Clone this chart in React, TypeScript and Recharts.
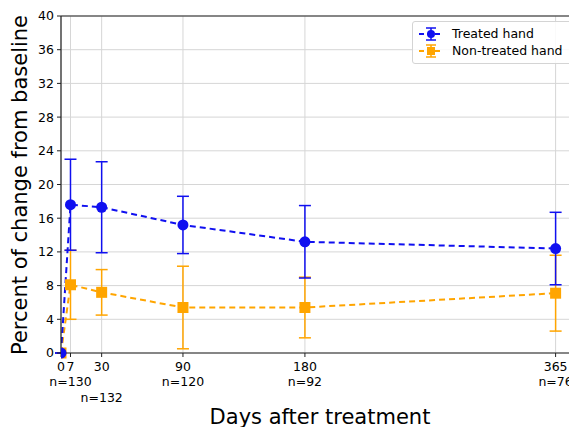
import {
  CartesianGrid,
  ComposedChart,
  ErrorBar,
  Label,
  Line,
  ReferenceLine,
  XAxis,
  YAxis,
} from 'recharts'

// 치료 후 기준선 대비 변화율 — 치료한 손 / 치료하지 않은 손, 비대칭 오차 막대

const days = [0, 7, 30, 90, 180, 365]
const sampleSizes = ['', 'n=130', 'n=132', 'n=120', 'n=92', 'n=76']
const yTicks = [0, 4, 8, 12, 16, 20, 24, 28, 32, 36, 40]

const treated = [0, 17.6, 17.3, 15.2, 13.2, 12.4]
const treatedLow = [0, 12.2, 11.9, 11.8, 8.9, 8.1]
const treatedHigh = [0, 23.0, 22.7, 18.6, 17.5, 16.7]

const untreated = [0, 8.1, 7.2, 5.4, 5.4, 7.1]
const untreatedLow = [0, 4.0, 4.5, 0.5, 1.8, 2.6]
const untreatedHigh = [0, 12.2, 9.9, 10.3, 9.0, 11.6]

const BLUE = '#1010f0'
const ORANGE = '#ffa500'
const FONT = '"DejaVu Sans", sans-serif'

const data = days.map((d, i) => ({
  day: d,
  treated: treated[i],
  treatedErr: [treated[i] - treatedLow[i], treatedHigh[i] - treated[i]],
  untreated: untreated[i],
  untreatedErr: [untreated[i] - untreatedLow[i], untreatedHigh[i] - untreated[i]],
}))

function DayTick({ x, y, payload }: any) {
  const i = days.indexOf(payload.value)
  // 30일 n 라벨은 7일 라벨과 겹쳐서 한 줄 아래로
  const nDy = i === 2 ? 45 : 29
  return (
    <g transform={`translate(${x},${y})`} fontFamily={FONT} fontSize={12.5} fill="#000">
      <text textAnchor="middle" dy={13.5}>{payload.value}</text>
      {sampleSizes[i] && (
        <text textAnchor="middle" dy={nDy}>{sampleSizes[i]}</text>
      )}
    </g>
  )
}

function CircleDot({ cx, cy, key }: any) {
  return <circle key={key} cx={cx} cy={cy} r={5.5} fill={BLUE} />
}

function SquareDot({ cx, cy, key }: any) {
  return <rect key={key} x={cx - 5.5} y={cy - 5.5} width={11} height={11} fill={ORANGE} />
}

function LegendIcon({ color, square }: { color: string; square?: boolean }) {
  return (
    <svg width={24} height={14} style={{ marginRight: 9 }}>
      <line x1={0} y1={7} x2={24} y2={7} stroke={color} strokeWidth={2} strokeDasharray="5 3" />
      <line x1={12} y1={1} x2={12} y2={13} stroke={color} strokeWidth={1.5} />
      <line x1={7} y1={1} x2={17} y2={1} stroke={color} strokeWidth={1.5} />
      <line x1={7} y1={13} x2={17} y2={13} stroke={color} strokeWidth={1.5} />
      {square ? (
        <rect x={8} y={3} width={8} height={8} fill={color} />
      ) : (
        <circle cx={12} cy={7} r={4} fill={color} />
      )}
    </svg>
  )
}

function LegendBox() {
  const rows = [
    { label: 'Treated hand', color: BLUE, square: false },
    { label: 'Non-treated hand', color: ORANGE, square: true },
  ]
  return (
    <div
      style={{
        position: 'absolute',
        top: 21,
        left: 412,
        border: '1px solid #d4d4d4',
        borderRadius: 3,
        background: 'rgba(255,255,255,0.85)',
        padding: '3px 12px 4px 6px',
        fontFamily: FONT,
        fontSize: 12.5,
        lineHeight: '17px',
      }}
    >
      {rows.map((r) => (
        <div key={r.label} style={{ display: 'flex', alignItems: 'center', whiteSpace: 'nowrap' }}>
          <LegendIcon color={r.color} square={r.square} />
          {r.label}
        </div>
      ))}
    </div>
  )
}

export default function App() {
  return (
    <div style={{ position: 'fixed', top: 0, left: 0, width: 569, height: 427, overflow: 'hidden', background: '#fff' }}>
      <ComposedChart width={600} height={427} data={data} margin={{ top: 16, right: 20, left: 0, bottom: 0 }}>
        <CartesianGrid stroke="#d6d6d6" strokeWidth={1} />
        <XAxis
          dataKey="day"
          type="number"
          domain={[0, 383]}
          ticks={days}
          interval={0}
          allowDataOverflow
          height={74}
          tickSize={4}
          tickMargin={0}
          tick={<DayTick />}
          stroke="#222"
          tickLine={{ stroke: '#222' }}
          axisLine={{ stroke: '#222', strokeWidth: 1.2 }}
        >
          <Label
            content={() => (
              <text x={320} y={424} textAnchor="middle" fontFamily={FONT} fontSize={21} fill="#000">
                Days after treatment
              </text>
            )}
          />
        </XAxis>
        <YAxis
          type="number"
          domain={[0, 40]}
          ticks={yTicks}
          width={61}
          tickSize={4}
          tickMargin={3}
          tick={{ fill: '#000', fontSize: 12.5, fontFamily: FONT }}
          stroke="#222"
          axisLine={{ stroke: '#222', strokeWidth: 1.2 }}
          interval={0}
        >
          <Label
            content={() => (
              <text
                x={20}
                y={185}
                transform="rotate(-90 20 185)"
                textAnchor="middle"
                dominantBaseline="central"
                fontFamily={FONT}
                fontSize={21}
                fill="#000"
              >
                Percent of change from baseline
              </text>
            )}
          />
        </YAxis>
        <ReferenceLine y={40} stroke="#222" strokeWidth={1.2} />
        <Line
          dataKey="untreated"
          stroke={ORANGE}
          strokeWidth={2}
          strokeDasharray="6 4"
          dot={SquareDot}
          activeDot={false}
          isAnimationActive={false}
        >
          <ErrorBar dataKey="untreatedErr" direction="y" width={6} stroke={ORANGE} strokeWidth={1.5} />
        </Line>
        <Line
          dataKey="treated"
          stroke={BLUE}
          strokeWidth={2}
          strokeDasharray="6 4"
          dot={CircleDot}
          activeDot={false}
          isAnimationActive={false}
        >
          <ErrorBar dataKey="treatedErr" direction="y" width={6} stroke={BLUE} strokeWidth={1.5} />
        </Line>
      </ComposedChart>
      <LegendBox />
    </div>
  )
}
